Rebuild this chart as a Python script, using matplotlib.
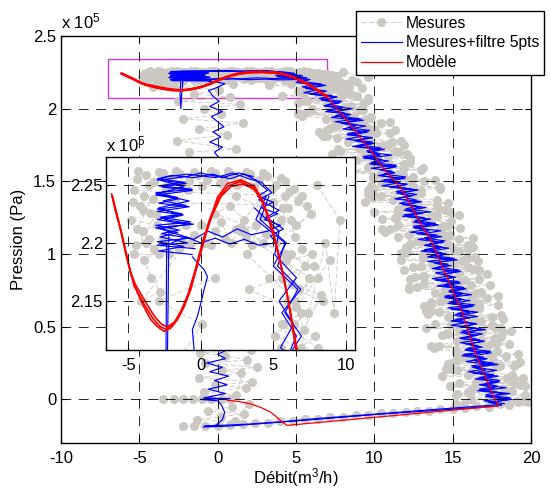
import numpy as np
import matplotlib.pyplot as plt
from matplotlib.ticker import FormatStrFormatter
from matplotlib.patches import Rectangle

plt.rcParams['font.family'] = 'Liberation Sans'
plt.rcParams['mathtext.fontset'] = 'custom'
plt.rcParams['mathtext.rm'] = 'Liberation Sans'
plt.rcParams['mathtext.it'] = 'Liberation Sans'
plt.rcParams['lines.scale_dashes'] = False
plt.rcParams['font.size'] = 12

# pressions en unites de 1e5 Pa, debit en m3/h
desc_y = [2.24,2.22,2.20,2.18,2.16,2.14,2.12,2.10,2.08,2.06,2.04,2.02,2.00,1.98,1.96,1.94,1.92,1.90,1.88,1.86,
          1.84,1.82,1.80,1.78,1.76,1.74,1.72,1.70,1.68,1.66,1.64,1.62,1.60,1.58,1.56,1.54,1.52,1.50,1.48,1.46,
          1.44,1.42,1.40,1.38,1.36,1.34,1.32,1.30,1.28,1.26,1.24,1.22,1.20,1.18,1.16,1.14,1.12,1.10,1.08,1.06,
          1.04,1.02,1.00,0.98,0.96,0.94,0.92,0.90,0.88,0.86,0.84,0.82,0.80,0.78,0.76,0.74,0.72,0.70,0.68,0.66,
          0.64,0.62,0.60,0.58,0.56,0.54,0.52,0.50,0.48,0.46,0.44,0.42,0.40,0.38,0.36,0.34,0.32,0.30,0.28,0.26,
          0.24,0.22,0.20,0.18,0.16,0.14,0.12,0.10,0.08,0.06,0.04,0.02,0.00,-0.02,-0.04]
odd_y = [2.23,2.21,2.19,2.17,2.15,2.13,2.11,2.09,2.07,2.05,2.03,2.01,1.99,1.97,1.95,1.93,1.91,1.89,1.87,1.85,
         1.83,1.81,1.79,1.77,1.75,1.73,1.71,1.69,1.67,1.65,1.63,1.61,1.59,1.57,1.55,1.53,1.51,1.49,1.47,1.45,
         1.43,1.41,1.39,1.37,1.35,1.33,1.31,1.29,1.27,1.25,1.23,1.21,1.19,1.17,1.15,1.13,1.11,1.09,1.07,1.05,
         1.03,1.01,0.99,0.97,0.95,0.93,0.91,0.89,0.87,0.85,0.83,0.81,0.79,0.77,0.75,0.73,0.71,0.69,0.67,0.65,
         0.63,0.61,0.59,0.57,0.55,0.53,0.51,0.49,0.47,0.45,0.43,0.41,0.39,0.37,0.35,0.33,0.31,0.29,0.27,0.25,
         0.23,0.21,0.19,0.17,0.15,0.13,0.11,0.09,0.07,0.05,0.03,0.01,-0.01,-0.03]
blue_desc_x = [4.7,4.1,5.9,5.0,6.7,5.8,6.95,5.9,7.6,6.6,
               7.8,6.8,8.6,7.55,8.3,7.25,8.9,7.9,9.45,8.4,
               9.3,8.25,9.9,8.85,10.0,8.9,10.65,9.6,10.35,9.3,
               10.9,9.85,11.4,10.35,11.3,10.25,11.95,10.9,12.05,11.0,
               12.7,11.65,12.4,11.3,12.9,11.8,13.3,12.2,13.1,12.0,
               13.6,12.5,13.6,12.5,14.25,13.15,13.9,12.8,14.4,13.25,
               14.75,13.6,14.5,13.4,14.95,13.85,14.9,13.8,15.5,14.35,
               15.05,13.9,15.5,14.4,15.85,14.75,15.6,14.5,16.1,14.95,
               16.05,14.9,16.6,15.45,16.1,15.0,16.55,15.4,16.85,15.7,
               16.6,15.45,17.0,15.85,16.9,15.8,17.45,16.3,17.0,15.85,
               17.45,16.3,17.8,16.7,17.55,16.45,18.0,16.9,18.4,16.85,
               18.65,17.1,18.6,17.5,18.1]
blue_desc2_x = [3.7,5.4,5.1,6.6,5.4,6.4,5.5,7.3,6.5,7.9,
                7.1,8.0,7.0,8.1,7.5,9.1,7.5,8.9,8.3,9.7,
                8.3,9.2,8.2,9.9,9.1,10.4,9.5,10.4,9.3,10.5,
                9.8,11.4,9.8,11.1,10.6,12.0,10.6,11.6,10.5,12.3,
                11.4,12.7,11.9,12.7,11.6,12.7,12.0,13.6,11.9,13.2,
                12.6,13.9,12.5,13.4,12.3,14.0,13.2,14.5,13.5,14.3,
                13.2,14.3,13.6,15.1,13.4,14.7,14.1,15.4,13.9,14.8,
                13.7,15.4,14.5,15.7,14.8,15.6,14.5,15.6,14.8,16.4,
                14.7,16.0,15.3,16.6,15.2,16.0,14.9,16.5,15.6,16.9,
                15.9,16.7,15.5,16.6,15.9,17.4,15.7,17.0,16.3,17.6,
                16.2,17.1,16.0,17.6,16.7,18.0,17.1,17.9,16.7,17.8,
                17.1,18.7,17.0,18.3]
blue_desc3_x = [4.5,3.8,5.8,5.3,6.9,5.6,6.6,5.9,7.6,6.7,
                7.7,6.8,7.9,6.9,8.5,7.9,9.3,7.9,8.8,8.0,
                9.6,8.7,9.6,8.7,9.7,8.6,10.3,9.6,11.1,9.6,
                10.4,9.7,11.3,10.4,11.3,10.4,11.5,10.4,12.1,11.4,
                12.8,11.4,12.2,11.4,13.0,12.0,12.9,11.9,12.9,11.8,
                13.4,12.7,14.1,12.6,13.5,12.7,14.3,13.3,14.2,13.2,
                14.2,13.0,14.6,13.9,15.3,13.8,14.5,13.7,15.3,14.3,
                15.2,14.1,15.1,14.0,15.6,14.9,16.2,14.7,15.5,14.7,
                16.3,15.2,16.1,15.1,16.0,14.9,16.5,15.7,17.1,15.5,
                16.3,15.5,17.0,16.0,16.8,15.8,16.8,15.6,17.2,16.5,
                17.9,16.3,17.1,16.3,17.9,16.9,17.7,16.7,17.7,16.6,
                18.2,17.4,18.8,17.3,18.1]
gray_desc_x = [2.4,6.2,4.3,7.8,3.3,6.9,5.1,8.5,6.4,9.6,
               5.1,8.5,6.0,8.1,5.1,9.8,7.5,10.4,7.5,10.0,
               6.5,9.6,7.6,11.7,9.2,10.5,7.7,11.6,9.4,12.3,
               8.4,11.9,9.6,13.0,8.3,11.8,9.9,13.2,11.1,14.2,
               9.6,13.0,10.4,12.4,9.4,14.0,11.7,14.5,11.5,14.0,
               10.5,13.5,11.5,15.5,13.1,14.4,11.5,15.4,13.1,16.0,
               12.1,15.4,13.1,16.4,11.7,15.1,13.0,16.3,14.1,17.2,
               12.6,15.8,13.2,15.2,12.2,16.8,14.4,17.2,14.2,16.7,
               13.2,16.1,14.1,18.1,15.5,16.8,13.9,17.7,15.4,18.2,
               14.3,17.7,15.3,18.6,13.8,17.2,15.2,18.4,16.2,19.3,
               14.7,17.9,15.3,17.3,14.3,18.9,16.5,19.3,16.3,18.8,
               15.3,18.2,16.2,19.8,17.3]
gray_desc3_x = [5.7,3.0,5.8,4.7,8.4,5.6,8.1,4.1,7.8,5.6,
                9.3,7.2,9.0,5.6,8.7,6.9,11.0,7.7,9.6,7.0,
                10.1,7.0,9.6,8.3,11.9,9.0,11.3,7.3,10.9,8.7,
                12.3,10.1,11.9,8.5,11.6,9.9,13.9,10.6,12.5,9.9,
                13.0,9.9,12.5,11.2,14.7,11.8,14.1,10.0,13.6,11.3,
                14.9,12.7,14.4,11.0,14.0,12.2,16.3,12.9,14.7,12.0,
                15.1,12.0,14.5,13.1,16.6,13.7,16.0,11.9,15.4,13.1,
                16.7,14.5,16.2,12.7,15.7,13.9,17.9,14.5,16.3,13.6,
                16.7,13.6,16.0,14.7,18.2,15.2,17.5,13.3,16.9,14.6,
                18.1,15.9,17.5,14.1,17.1,15.2,19.2,15.8,17.6,14.9,
                18.0,14.9,17.4,16.0,19.5,16.6,18.9,14.8,18.3,16.0,
                19.6,17.4,19.1,15.7]
gray2_y = [2.23,2.19,2.15,2.11,2.07,2.03,1.99,1.95,1.91,1.87,1.83,1.79,1.75,1.71,1.67,1.63,1.59,1.55,1.51,1.47,
           1.43,1.39,1.35,1.31,1.27,1.23,1.19,1.15,1.11,1.07,1.03,0.99,0.95,0.91,0.87,0.83,0.79,0.75,0.71,0.67,
           0.63,0.59,0.55,0.51,0.47,0.43,0.39,0.35,0.31,0.27,0.23,0.19,0.15,0.11,0.07,0.03,-0.01]
gray2_x = [5.7,3.2,6.5,5.5,9.6,7.0,9.3,5.4,9.2,7.2,11.0,8.4,10.9,7.8,10.2,7.9,13.1,10.4,12.2,9.8,
           13.0,9.9,12.8,11.5,15.4,12.6,14.7,10.7,14.5,12.3,16.0,13.3,15.6,12.5,14.7,12.3,17.4,14.5,16.2,13.6,
           16.7,13.4,16.3,14.9,18.7,15.8,17.8,13.8,17.4,15.2,18.9,16.2,18.5,15.4,17.6,15.2,19.5]
gray4_y = [2.21,2.17,2.13,2.09,2.05,2.01,1.97,1.93,1.89,1.85,1.81,1.77,1.73,1.69,1.65,1.61,1.57,1.53,1.49,1.45,
           1.41,1.37,1.33,1.29,1.25,1.21,1.17,1.13,1.09,1.05,1.01,0.97,0.93,0.89,0.85,0.81,0.77,0.73,0.69,0.65,
           0.61,0.57,0.53,0.49,0.45,0.41,0.37,0.33,0.29,0.25,0.21,0.17,0.13,0.09,0.05,0.01,-0.03]
gray4_x = [2.7,7.5,5.7,8.9,5.7,8.1,5.1,9.5,7.5,11.3,6.7,11.1,9.1,12.1,8.8,11.0,8.0,12.5,10.4,14.2,
           9.6,14.0,11.9,14.8,11.4,13.6,10.5,14.8,12.7,16.3,11.7,15.9,13.8,16.7,13.2,15.4,12.2,16.5,14.3,17.9,
           13.3,17.5,15.3,18.1,14.7,16.8,13.6,17.8,15.6,19.2,14.6,18.8,16.7,19.6,16.1,18.3,15.2]
gray_bot_x = [19.2,18.6,18.0,17.3,16.5,15.8,15.0,14.2,13.5,12.7,12.0,11.2,10.4,9.6,8.8,8.0,7.2,6.4,5.6,4.8,
              4.0,3.2,2.4,1.6,0.8,0.0,-0.8,-1.5,-2.2]
gray_bot_y = [-0.02,-0.04,-0.035,-0.05,-0.045,-0.06,-0.065,-0.065,-0.08,-0.08,-0.09,-0.095,-0.095,-0.11,-0.11,
              -0.12,-0.12,-0.135,-0.135,-0.15,-0.15,-0.16,-0.165,-0.17,-0.175,-0.18,-0.185,-0.18,-0.18]
gray_low_x = [-3.5,-2.8,-2.2,-1.6,-1.0,-0.4,0.3,0.8,1.2,-0.9,1.8,-0.2,2.2,-1.2,1.5,0.3,2.5,-0.8,1.9,0.5,-1.1,2.1,
              0.9,-0.6,1.7,0.2,-1.3,1.1,2.0]
gray_low_y = [0.0,0.0,0.005,0.0,0.0,0.0,0.005,0.0,0.03,0.05,0.08,0.1,0.12,0.15,0.18,0.2,0.22,0.25,0.27,0.3,0.32,0.34,
              -0.05,-0.08,-0.1,-0.12,-0.14,-0.15,-0.03]
gray_mid_x = [-1.8,1.2,-2.6,0.6,-1.2,1.6,-2.2,0.2,-0.9,1.4,-2.5,0.8,-1.5,0.1,-2.9,1.0]
gray_mid_y = [1.7,1.72,1.78,1.82,1.86,1.9,1.93,1.96,2.0,2.03,2.05,2.08,2.1,2.13,2.15,2.17]
gray_top_x = [-4.4,-3.8,-3.2,-2.6,-2.0,-1.4,-0.8,-0.2,0.4,1.0,1.6,2.2,2.8,3.4,4.0,4.6,5.2,5.8,6.4,7.0,
              -4.6,-3.9,-4.2,-3.5,-4.8,-3.0,-4.0,-3.6,-4.5,-2.6,-3.2,-2.2,-1.2,-1.8,-0.9,-2.4,-1.0,-3.9,-3.4,-2.8,-4.1,
              -0.5,0.3,1.0,1.7,2.4,3.1,3.8,4.5,1.0,2.0,3.0,
              4.2,5.0,6.0,5.5,6.6,7.6,5.2,6.2,7.2,5.6,6.8,8.1,6.0,7.4,6.4,7.9,6.9,8.6,9.2,9.6,8.0]
gray_top_y = [2.255,2.258,2.252,2.26,2.255,2.259,2.253,2.258,2.254,2.26,2.255,2.258,2.252,2.259,2.254,2.257,2.25,2.253,2.246,2.24,
              2.245,2.24,2.232,2.226,2.22,2.215,2.21,2.203,2.198,2.205,2.195,2.19,2.2,2.235,2.245,2.245,2.215,2.185,2.17,2.158,2.15,
              2.207,2.2,2.21,2.203,2.212,2.205,2.215,2.208,2.225,2.232,2.22,
              2.24,2.235,2.23,2.22,2.215,2.225,2.2,2.19,2.18,2.17,2.16,2.17,2.15,2.14,2.13,2.12,2.11,2.2,2.14,2.22,2.25]
gray_top2_x = [-4.3,-3.6,-2.9,-2.3,-1.7,-1.1,-0.5,0.1,0.7,1.3,1.9,2.5,3.1,3.7,4.3,4.9,5.5,6.1,6.7,7.3,
               -4.7,-4.0,-3.3,-4.4,-3.8,-2.9,-4.6,-3.1,-2.0,-1.5,-0.7,0.0,0.7,1.4,2.1,2.8,3.5,4.2,
               5.8,6.5,7.0,5.9,7.7,6.3,8.3,7.1,6.6,8.9]
gray_top2_y = [2.262,2.25,2.261,2.249,2.262,2.25,2.261,2.249,2.262,2.251,2.262,2.25,2.261,2.248,2.26,2.246,2.256,2.244,2.236,2.232,
               2.235,2.228,2.238,2.212,2.2,2.19,2.19,2.225,2.215,2.195,2.2,2.215,2.198,2.218,2.2,2.214,2.198,2.222,
               2.24,2.205,2.195,2.185,2.19,2.165,2.155,2.125,2.145,2.185]

blue_low_x = [18.1,15.0,12.0,9.0,6.0,4.0,2.0,0.0,-0.85,-0.1,0.3,0.45,0.25,0.0,-1.1,0.8,-0.9,
              0.5,-0.6,0.6,-0.2,0.7,-0.5,0.3,-0.7,0.5,0.0,0.6,0.2,0.0,-0.3,0.1,
              -0.2,0.3,-0.5,0.2,-0.3,0.4,0.0,-0.4,0.3,-0.5,0.1,-0.3,
              -0.46,-0.58,-0.23,0.0,0.23,0.46,0.23,-0.23,-0.58]
blue_low_y = [-0.035,-0.06,-0.085,-0.11,-0.135,-0.155,-0.17,-0.18,-0.185,-0.178,-0.14,-0.09,-0.04,-0.01,0.0,0.005,0.01,
              0.04,0.07,0.1,0.13,0.16,0.19,0.22,0.25,0.28,0.31,0.34,0.6,1.0,1.4,1.66,
              1.70,1.735,1.77,1.805,1.84,1.875,1.91,1.945,1.98,2.015,2.05,2.085,
              2.108,2.1255,2.137,2.148,2.16,2.171,2.177,2.183,2.188]
blue_bot2_x = [17.9,14.0,10.0,6.0,3.0,0.5,-0.9]
blue_bot2_y = [-0.045,-0.075,-0.105,-0.14,-0.165,-0.185,-0.19]
blue_top_x = [-0.6,-2.9,-1.2,-3.0,-0.8,-2.7,-1.5,-3.1,-0.7,-2.8,-1.3,-3.0,-1.0,-2.6,-1.6,-3.1,-0.6,-2.9,-1.1,-3.0,-2.0,
              -0.5,0.8,2.0,3.0,3.8,
              4.6,3.9,5.0,4.2,5.3,4.4,5.5,4.6,
              3.5,2.5,1.5,0.5,-0.5,-1.5,
              -2.8,-0.9,-3.0,-1.4,-2.9,-0.8,-3.1,-1.2,-2.8,-1.0,
              0.0,1.5,2.6,3.6]
blue_top_y = [2.19,2.193,2.197,2.201,2.204,2.208,2.211,2.215,2.218,2.222,2.225,2.229,2.232,2.236,2.239,2.243,2.246,2.249,2.252,2.255,2.258,
              2.256,2.259,2.255,2.259,2.254,
              2.245,2.24,2.235,2.23,2.225,2.22,2.215,2.21,
              2.207,2.212,2.205,2.21,2.203,2.207,
              2.212,2.216,2.22,2.224,2.23,2.236,2.242,2.248,2.254,2.257,
              2.26,2.256,2.26,2.257]
blue_top2_x = [-0.4,-3.0,-0.9,-2.8,-1.6,-3.1,-0.5,-2.5,-1.2,-3.0,-0.8,-2.9,-1.5,-3.1,-0.6,-2.7,-1.0,-3.0,-2.2,-0.9,
               1.0,2.2,3.3,4.2,4.9,4.0,5.4,4.5,5.7,4.8,5.2,4.0,3.0,2.0,1.0,0.0,-1.0,-2.0]
blue_top2_y = [2.195,2.198,2.2,2.205,2.209,2.213,2.216,2.22,2.224,2.227,2.231,2.234,2.238,2.241,2.245,2.248,2.251,2.254,2.257,2.259,
               2.256,2.26,2.255,2.252,2.243,2.237,2.228,2.222,2.212,2.206,2.2,2.198,2.203,2.199,2.204,2.2,2.205,2.2]
blue_drop_x = [-2.2,-2.3,-2.35,-2.4,-2.35]
blue_drop_y = [2.21,2.1,2.0,2.1,2.2]

red1_x = [-6.15,-5.9,-5.53,-5.2,-4.84,-4.4,-3.92,-3.45,-2.99,-2.53,-2.05,-1.61,-1.15,-0.69,-0.25,0.23,0.7,1.15,1.84,
          2.76,3.68,4.2,4.61,5.0,5.3,5.65,5.99,6.3,6.57,6.98]
red1_y = [2.242,2.228,2.211,2.192,2.174,2.158,2.145,2.134,2.128,2.124,2.127,2.134,2.145,2.16,2.18,2.202,2.222,2.239,2.251,
          2.254,2.249,2.238,2.225,2.21,2.194,2.174,2.154,2.13,2.108,2.082]
red2_x = [-6.1,-5.5,-4.85,-4.6,-3.9,-3.3,-2.8,-2.4,-1.9,-1.4,-0.9,-0.4,0.1,0.6,1.2,1.9,2.7,3.6,4.2,4.7,5.2,5.65,6.0,
          6.3,6.6,6.98]
red2_y = [2.24,2.21,2.175,2.163,2.147,2.135,2.128,2.1258,2.13,2.14,2.155,2.176,2.2,2.22,2.238,2.249,2.2525,2.248,2.236,
          2.22,2.198,2.174,2.152,2.13,2.108,2.082]
red3_x = [-6.1,-5.5,-4.85,-4.5,-3.8,-3.2,-2.7,-2.3,-1.8,-1.3,-0.8,-0.3,0.2,0.8,1.4,2.1,2.9,3.7,4.3,4.8,5.25,5.7,6.05,
          6.35,6.65,7.0]
red3_y = [2.24,2.21,2.175,2.164,2.149,2.137,2.13,2.1278,2.132,2.143,2.158,2.179,2.203,2.224,2.24,2.2485,2.2505,2.246,
          2.234,2.216,2.195,2.172,2.15,2.129,2.108,2.082]
red_desc_x = [6.98,7.6,8.4,9.1,9.74,10.5,11.3,11.65,12.0,12.5,13.0,13.6,14.0,14.4,14.8,15.2,15.6,15.9,16.2,16.55,
              16.9,17.3,17.7,17.93,4.43,4.0,3.7,3.36,2.8,2.09,1.3,0.6]
red_desc_y = [2.082,2.0,1.9,1.8,1.715,1.6,1.5,1.462,1.4,1.3,1.2,1.1,1.0,0.9,0.8,0.7,0.6,0.5,0.4,0.29,
              0.2,0.1,0.0,-0.045,-0.179,-0.145,-0.115,-0.087,-0.058,-0.03,-0.014,-0.006]

GRAY = '#ccc8c3'
BLUE = '#0000ff'
RED = '#ff0000'


def draw(a, red_lw):
    hs = []
    for gx, gy in [(gray_desc_x, desc_y), (gray2_x, gray2_y), (gray_desc3_x, odd_y), (gray4_x, gray4_y),
                   (gray_bot_x, gray_bot_y), (gray_low_x, gray_low_y), (gray_mid_x, gray_mid_y),
                   (gray_top_x, gray_top_y), (gray_top2_x, gray_top2_y)]:
        h, = a.plot(gx, gy, ls='--', lw=0.6, color=GRAY, marker='o', ms=5.5, mfc=GRAY, mec=GRAY)
        hs.append(h)
    hb = None
    for bx, by in [(blue_low_x, blue_low_y), (blue_bot2_x, blue_bot2_y), (blue_top_x, blue_top_y),
                   (blue_top2_x, blue_top2_y), (blue_desc_x, desc_y), (blue_desc2_x, odd_y),
                   (blue_desc3_x, desc_y), (blue_drop_x, blue_drop_y)]:
        h, = a.plot(bx, by, color=BLUE, lw=0.85)
        hb = hb or h
    for rx, ry in [(red1_x, red1_y), (red2_x, red2_y), (red3_x, red3_y)]:
        a.plot(rx, ry, color=RED, lw=red_lw)
    h, = a.plot(red_desc_x, red_desc_y, color=RED, lw=0.9)
    return hs[0], hb, h


def style(a, pad_x, pad_y):
    a.tick_params(direction='in', top=True, right=True, length=4, width=0.8)
    a.tick_params(axis='x', pad=pad_x)
    a.tick_params(axis='y', pad=pad_y)
    a.grid(True, color='k', ls=(0, (7, 5.5)), lw=0.6)
    a.set_axisbelow(False)
    for s in a.spines.values():
        s.set_linewidth(1.0)
    a.xaxis.set_major_formatter(FormatStrFormatter('%g'))
    a.yaxis.set_major_formatter(FormatStrFormatter('%g'))


fig = plt.figure(figsize=(5.51, 4.91), dpi=100)
ax = fig.add_axes([0.1107, 0.0978, 0.853, 0.829])
hg, hb, hr = draw(ax, 1.6)
ax.add_patch(Rectangle((-7, 2.07), 14, 0.27, fill=False, ec='#c83cc8', lw=1.0))
ax.set_xlim(-10, 20)
ax.set_ylim(-0.3, 2.5)
ax.set_xticks([-10, -5, 0, 5, 10, 15, 20])
ax.set_yticks([0, 0.5, 1, 1.5, 2, 2.5])
style(ax, 6, 3.5)
ax.set_xlabel('Débit(m$^3$/h)', labelpad=0)
ax.set_ylabel('Pression (Pa)', labelpad=5)
ax.text(0.0, 1.01, 'x 10$^5$', transform=ax.transAxes, ha='left', va='bottom')

axi = fig.add_axes([0.1918, 0.2872, 0.4525, 0.3937])
draw(axi, 1.2)
axi.set_xlim(-6.56, 10.64)
axi.set_ylim(2.108, 2.274)
axi.set_xticks([-5, 0, 5, 10])
axi.set_yticks([2.15, 2.2, 2.25])
style(axi, 6, 2)
axi.text(0.0, 1.01, 'x 10$^5$', transform=axi.transAxes, ha='left', va='bottom')

fig.legend([hg, hb, hr], ['Mesures', 'Mesures+filtre 5pts', 'Modèle'],
           loc='upper left', bbox_to_anchor=(356 / 551, 1 - 11 / 491), bbox_transform=fig.transFigure,
           borderaxespad=0, fancybox=False, edgecolor='k', framealpha=1, handlelength=2.6,
           handletextpad=0.3, borderpad=0.3, labelspacing=0.3, fontsize=11.3)

fig.savefig('out.png', dpi=100)
